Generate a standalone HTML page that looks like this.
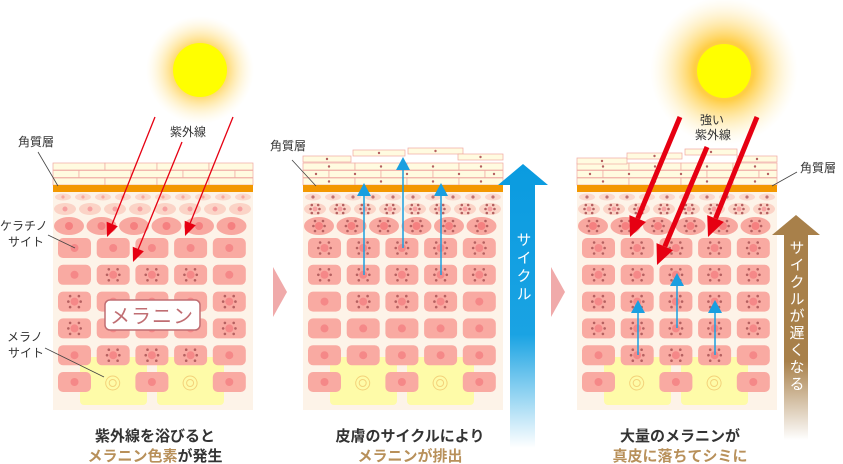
<!DOCTYPE html>
<html><head><meta charset="utf-8">
<style>
html,body{margin:0;padding:0;background:#fff;}
svg{display:block;}
text{font-family:"Liberation Sans","Noto Sans CJK JP",sans-serif;}
</style></head>
<body>
<svg id="s" width="843" height="464" viewBox="0 0 843 464" xmlns="http://www.w3.org/2000/svg">
<defs>
<radialGradient id="glow" cx="0.5" cy="0.5" r="0.5">
<stop offset="0.4" stop-color="#ffc830" stop-opacity="0.9"/>
<stop offset="1" stop-color="#fff0c0" stop-opacity="0"/>
</radialGradient>
<linearGradient id="bluef" x1="0" y1="0" x2="0" y2="1">
<stop offset="0" stop-color="#0a9be0"/><stop offset="0.6" stop-color="#1aa3e3"/><stop offset="1" stop-color="#ffffff"/>
</linearGradient>
<linearGradient id="brownf" x1="0" y1="0" x2="0" y2="1">
<stop offset="0" stop-color="#a8804a"/><stop offset="0.65" stop-color="#a8804a"/><stop offset="1" stop-color="#ffffff"/>
</linearGradient>
</defs>
<g id="cells"></g>
<circle cx="200" cy="70" r="54" fill="url(#glow)"/>
<circle cx="200" cy="70" r="27" fill="#ffff00"/>
<circle cx="724" cy="71" r="74" fill="url(#glow)"/>
<circle cx="724" cy="71" r="27" fill="#ffff00"/>

<polygon points="273,267 287,292 273,317" fill="#f0aaaa"/>
<polygon points="551,267 565,292 551,317" fill="#f0aaaa"/>

<polygon points="523,164 548,185 535,185 535,448 510,448 510,185 498,185" fill="url(#bluef)"/>
<text x="523" y="232" fill="#fff" font-size="15" style="writing-mode:vertical-rl" letter-spacing="3">サイクル</text>
<polygon points="796,215 820,235 808,235 808,440 784,440 784,235 772,235" fill="url(#brownf)"/>
<text x="796" y="240" fill="#fff" font-size="15" style="writing-mode:vertical-rl" letter-spacing="2">サイクルが遅くなる</text>

<g font-size="12" fill="#333">
<text x="18" y="146">角質層</text>
<text x="0" y="230">ケラチノ</text><text x="8" y="246">サイト</text>
<text x="7" y="341">メラノ</text><text x="8" y="357">サイト</text>
<text x="270" y="150">角質層</text>
<text x="800" y="172">角質層</text>
<text x="170" y="136">紫外線</text>
<text x="700" y="124">強い</text><text x="695" y="139">紫外線</text>
</g>
<g stroke="#444" stroke-width="0.8">
<line x1="38" y1="152" x2="58" y2="186"/>
<line x1="48" y1="235" x2="75" y2="248"/>
<line x1="45" y1="348" x2="104" y2="377"/>
<line x1="292" y1="160" x2="316" y2="186"/>
<line x1="797" y1="172" x2="772" y2="186"/>
</g>

<rect x="105" y="300" width="95" height="30" rx="5" fill="#fff" stroke="#c06e73" stroke-width="1.5"/>
<text x="152" y="323" font-size="20" fill="#c06e73" text-anchor="middle" letter-spacing="1">メラニン</text>

<g font-size="15" font-weight="bold" text-anchor="middle">
<text x="155" y="441" fill="#333">紫外線を浴びると</text>
<text x="155" y="461"><tspan fill="#b8905a">メラニン色素</tspan><tspan fill="#333">が発生</tspan></text>
<text x="410" y="441" fill="#333">皮膚のサイクルにより</text>
<text x="410" y="461" fill="#b8905a">メラニンが排出</text>
<text x="680" y="441" fill="#333">大量のメラニンが</text>
<text x="680" y="461" fill="#b8905a">真皮に落ちてシミに</text>
</g>
<g id="arrows"></g>
</svg>
<script>
var NS="http://www.w3.org/2000/svg";
var cg=document.getElementById('cells'),ag=document.getElementById('arrows');
function el(p,t,a){var e=document.createElementNS(NS,t);for(var k in a)e.setAttribute(k,a[k]);p.appendChild(e);return e;}
function dots(cx,cy,s){var pts=[[-1,-1],[1,-1],[-1.4,0],[1.4,0],[-1,1],[1,1]];pts.forEach(function(q){el(cg,'circle',{cx:cx+q[0]*s*4,cy:cy+q[1]*s*5,r:1.3,fill:'#b56060'});});}
function panel(x0,kind){
 el(cg,'rect',{x:x0,y:186,width:200,height:224,fill:'#fdf3e8'});
 el(cg,'rect',{x:x0+27,y:357,width:67,height:48,rx:4,fill:'#fefba8'});
 el(cg,'rect',{x:x0+104,y:357,width:67,height:48,rx:4,fill:'#fefba8'});
 for(var r=0;r<3;r++){for(var c=0;c<6;c++){var w=52,xx=x0+c*52-(r%2)*26;var yy=163+r*7.5;
   var rx=Math.max(x0,xx),rw=Math.min(x0+200,xx+w)-rx;if(rw<=0)continue;
   el(cg,'rect',{x:rx,y:yy,width:rw,height:7,fill:'#fffbe0',stroke:'#f0a8a0','stroke-width':0.7});
   if(kind>1)el(cg,'circle',{cx:rx+rw/2,cy:yy+3.5,r:1.2,fill:'#b56060'});}}
 if(kind>1){var fl=kind==2?[[x0,156,48],[x0+50,150,52],[x0+105,148,55],[x0+155,154,45]]:[[x0,158,50],[x0+50,153,55],[x0+108,149,52],[x0+160,156,40]];
  fl.forEach(function(f){el(cg,'rect',{x:f[0],y:f[1],width:f[2],height:6,fill:'#fffbe0',stroke:'#f0a8a0','stroke-width':0.7});el(cg,'circle',{cx:f[0]+f[2]/2,cy:f[1]+3,r:1.2,fill:'#b56060'});});}
 el(cg,'rect',{x:x0,y:185,width:200,height:7,fill:'#f39800'});
 var dotted=kind>1;
 for(var i=0;i<10;i++){var cx=x0+10+i*20;el(cg,'ellipse',{cx:cx,cy:197,rx:8,ry:3.5,fill:'#fbd8cc'});el(cg,'circle',{cx:cx,cy:197,r:1.6,fill:dotted?'#c07070':'#f7a8a0'});}
 for(i=0;i<8;i++){cx=x0+12+i*25;el(cg,'ellipse',{cx:cx,cy:209,rx:11,ry:6,fill:'#fbd3c6'});el(cg,'circle',{cx:cx,cy:209,r:2.5,fill:'#f7a0a0'});if(dotted)dots(cx,209,0.8);}
 for(i=0;i<6;i++){cx=x0+16+i*32.5;el(cg,'ellipse',{cx:cx,cy:226,rx:15,ry:9,fill:'#f8a8a0'});el(cg,'circle',{cx:cx,cy:226,r:4,fill:'#f58080'});if(kind>1)dots(cx,226,1);}
 var pat;
 if(kind==1)pat=['00000','01110','10001','10001','01110','0x0x0'];
 else if(kind==2)pat=['11111','11111','01110','00000','00000','0x0x0'];
 else pat=['11111','11111','11111','11111','01110','0x0x0'];
 for(var r2=0;r2<6;r2++)for(var c2=0;c2<5;c2++){var ch=pat[r2][c2];var x=x0+5+c2*38.7,y=238+r2*26.8;
   if(ch=='x'){el(cg,'circle',{cx:x+16,cy:y+11,r:7,fill:'none',stroke:'#f3d27a','stroke-width':1});el(cg,'circle',{cx:x+16,cy:y+11,r:3.5,fill:'none',stroke:'#f3d27a','stroke-width':1});continue;}
   el(cg,'rect',{x:x,y:y,width:33,height:20,rx:5,fill:'#f9aaa2'});el(cg,'circle',{cx:x+16.5,cy:y+10,r:4,fill:'#f58888'});
   if(ch=='1')dots(x+16.5,y+10,1.1);}
}
panel(53,1);panel(303,2);panel(577,3);
function arrow(x1,y1,x2,y2,col,w,hl,hw){var dx=x2-x1,dy=y2-y1,L=Math.hypot(dx,dy),ux=dx/L,uy=dy/L;var bx=x2-ux*hl,by=y2-uy*hl;
 el(ag,'line',{x1:x1,y1:y1,x2:bx,y2:by,stroke:col,'stroke-width':w});
 el(ag,'polygon',{points:x2+','+y2+' '+(bx-uy*hw)+','+(by+ux*hw)+' '+(bx+uy*hw)+','+(by-ux*hw),fill:col});}
arrow(155,117,107,237,'#e60012',1.3,14,6);
arrow(182,142,133,262,'#e60012',1.3,14,6);
arrow(233,117,185,236,'#e60012',1.3,14,6);
arrow(680,117,630,237,'#e60012',5,20,9);
arrow(707,147,657,265,'#e60012',5,20,9);
arrow(757,117,708,237,'#e60012',5,20,9);
arrow(364,275,364,183,'#1a9fe0',1.5,13,7);
arrow(403,248,403,157,'#1a9fe0',1.5,13,7);
arrow(441,275,441,183,'#1a9fe0',1.5,13,7);
arrow(638,355,638,300,'#1a9fe0',1.5,13,7);
arrow(677,328,677,273,'#1a9fe0',1.5,13,7);
arrow(715,355,715,300,'#1a9fe0',1.5,13,7);
</script>
</body></html>
